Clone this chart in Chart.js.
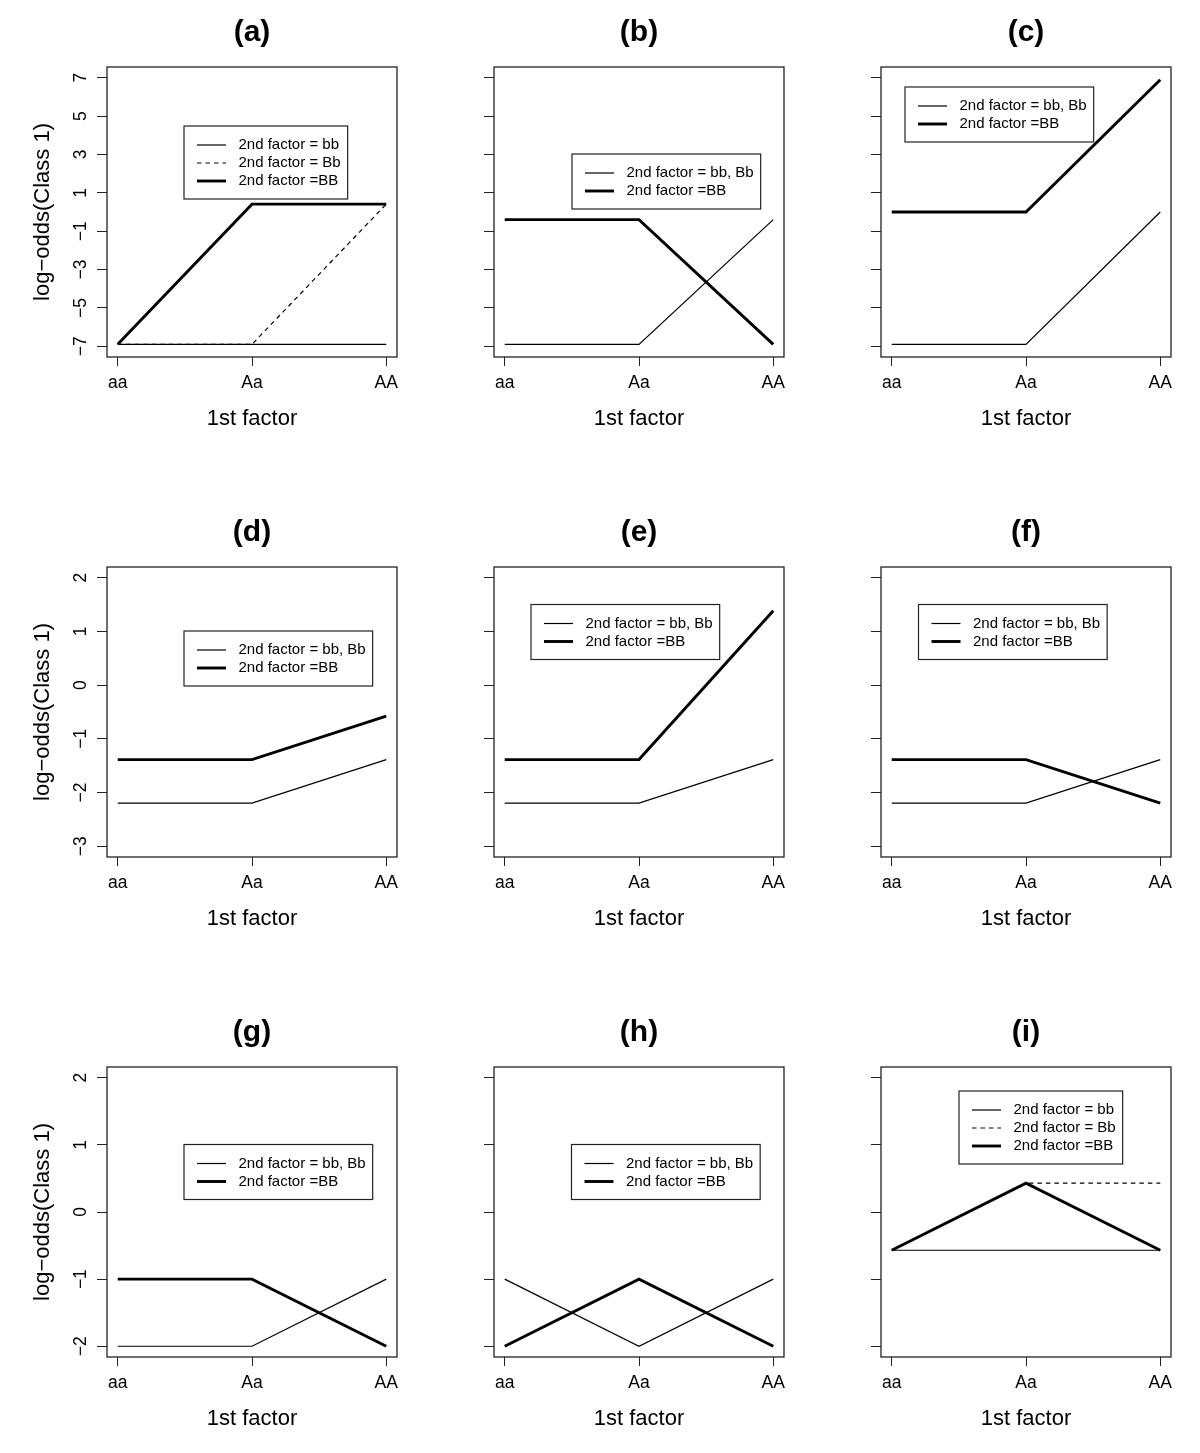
<!DOCTYPE html>
<html>
<head>
<meta charset="utf-8">
<script src="https://cdn.jsdelivr.net/npm/chart.js@4.4.0/dist/chart.umd.min.js"></script>
<style>
html, body { margin: 0; padding: 0; background: #fff; overflow: hidden; }
#page { position: relative; width: 1200px; height: 1453px; background: #fff; }
#page canvas { position: absolute; }
</style>
</head>
<body>
<div id="page"></div>
<script>
// categories of the 1st factor (x axis)
const factor1 = ['aa', 'Aa', 'AA'];
const titles = ['(a)', '(b)', '(c)', '(d)', '(e)', '(f)', '(g)', '(h)', '(i)'];

// legend labels
const LAB_bb = '2nd factor = bb';
const LAB_Bb = '2nd factor = Bb';
const LAB_bbBb = '2nd factor = bb, Bb';
const LAB_BB = '2nd factor =BB';

// log-odds values at aa, Aa, AA
const a_bb = [-6.9, -6.9, -6.9];
const a_Bb = [-6.9, -6.9, 0.41];
const a_BB = [-6.9, 0.41, 0.41];
const b_bbBb = [-6.9, -6.9, -0.4];
const b_BB = [-0.4, -0.4, -6.9];
const c_bbBb = [-6.9, -6.9, 0];
const c_BB = [0, 0, 6.9];
const d_bbBb = [-2.197, -2.197, -1.386];
const d_BB = [-1.386, -1.386, -0.575];
const e_bbBb = [-2.197, -2.197, -1.386];
const e_BB = [-1.386, -1.386, 1.386];
const f_bbBb = [-2.197, -2.197, -1.386];
const f_BB = [-1.386, -1.386, -2.197];
const g_bbBb = [-2, -2, -1];
const g_BB = [-1, -1, -2];
const h_bbBb = [-1, -2, -1];
const h_BB = [-2, -1, -2];
const i_bb = [-0.57, -0.57, -0.57];
const i_Bb = [-0.57, 0.43, 0.43];
const i_BB = [-0.57, 0.43, -0.57];

// y limits and tick labels per row
const ylimRow1 = [-7, 7];
const ylimRow2 = [-3, 2];
const ylimRow3 = [-2, 2];
const ticksRow1 = [-7, -5, -3, -1, 1, 3, 5, 7];
const ticksRow2 = [-3, -2, -1, 0, 1, 2];
const ticksRow3 = [-2, -1, 0, 1, 2];

const FONT = '"Liberation Sans", Arial, Helvetica, sans-serif';
const lineStyles = {
  thin: { width: 1.2, dash: [] },
  dash: { width: 1.2, dash: [4.5, 4] },
  thick: { width: 2.9, dash: [] }
};

const panels = [
  { series: [[LAB_bb, a_bb, 'thin'], [LAB_Bb, a_Bb, 'dash'], [LAB_BB, a_BB, 'thick']], ylim: ylimRow1, ticks: ticksRow1, legendAt: [77, 59] },
  { series: [[LAB_bbBb, b_bbBb, 'thin'], [LAB_BB, b_BB, 'thick']], ylim: ylimRow1, ticks: ticksRow1, legendAt: [78, 87] },
  { series: [[LAB_bbBb, c_bbBb, 'thin'], [LAB_BB, c_BB, 'thick']], ylim: ylimRow1, ticks: ticksRow1, legendAt: [24, 20] },
  { series: [[LAB_bbBb, d_bbBb, 'thin'], [LAB_BB, d_BB, 'thick']], ylim: ylimRow2, ticks: ticksRow2, legendAt: [77, 64] },
  { series: [[LAB_bbBb, e_bbBb, 'thin'], [LAB_BB, e_BB, 'thick']], ylim: ylimRow2, ticks: ticksRow2, legendAt: [37, 37.5] },
  { series: [[LAB_bbBb, f_bbBb, 'thin'], [LAB_BB, f_BB, 'thick']], ylim: ylimRow2, ticks: ticksRow2, legendAt: [37.5, 37.5] },
  { series: [[LAB_bbBb, g_bbBb, 'thin'], [LAB_BB, g_BB, 'thick']], ylim: ylimRow3, ticks: ticksRow3, legendAt: [77, 77.5] },
  { series: [[LAB_bbBb, h_bbBb, 'thin'], [LAB_BB, h_BB, 'thick']], ylim: ylimRow3, ticks: ticksRow3, legendAt: [77.5, 77.5] },
  { series: [[LAB_bb, i_bb, 'thin'], [LAB_Bb, i_Bb, 'dash'], [LAB_BB, i_BB, 'thick']], ylim: ylimRow3, ticks: ticksRow3, legendAt: [78, 24] }
];

// frame around the plot region and the R-style legend box inside it
const frameLegend = {
  id: 'frameLegend',
  afterDatasetsDraw(chart, args, opts) {
    const ctx = chart.ctx;
    const a = chart.chartArea;
    ctx.save();
    ctx.strokeStyle = '#222';
    ctx.lineWidth = 1.3;
    ctx.strokeRect(a.left, a.top, a.right - a.left, a.bottom - a.top);

    const sets = chart.data.datasets;
    ctx.font = '15px ' + FONT;
    const w = 54.5 + Math.max(...sets.map(d => ctx.measureText(d.label).width)) + 7;
    const h = (sets.length - 1) * 18 + 37;
    const x0 = a.left + opts.at[0];
    const y0 = a.top + opts.at[1];
    ctx.lineWidth = 1.2;
    ctx.strokeRect(x0, y0, w, h);
    sets.forEach((d, k) => {
      const y = y0 + 19 + k * 18;
      ctx.beginPath();
      ctx.strokeStyle = '#000';
      ctx.lineWidth = d.borderWidth;
      ctx.setLineDash(d.borderDash);
      ctx.moveTo(x0 + 13, y);
      ctx.lineTo(x0 + 42, y);
      ctx.stroke();
      ctx.setLineDash([]);
      ctx.fillStyle = '#000';
      ctx.textBaseline = 'middle';
      ctx.textAlign = 'left';
      ctx.fillText(d.label, x0 + 54.5, y);
    });
    ctx.restore();
  }
};

const page = document.getElementById('page');

function minusSign(v) {
  return v < 0 ? '\u2212' + Math.abs(v) : String(v);
}

panels.forEach((p, i) => {
  const row = Math.floor(i / 3);
  const col = i % 3;
  const canvas = document.createElement('canvas');
  canvas.width = 410;
  canvas.height = 450;
  canvas.style.width = '410px';
  canvas.style.height = '450px';
  canvas.style.left = (col * 387) + 'px';
  canvas.style.top = (row * 500) + 'px';
  page.appendChild(canvas);

  const span = p.ylim[1] - p.ylim[0];

  new Chart(canvas, {
    type: 'line',
    data: {
      datasets: p.series.map(s => ({
        label: s[0],
        data: s[1].map((v, k) => ({ x: k, y: v })),
        borderColor: '#000',
        borderWidth: lineStyles[s[2]].width,
        borderDash: lineStyles[s[2]].dash,
        pointRadius: 0,
        tension: 0,
        fill: false
      }))
    },
    options: {
      responsive: false,
      animation: false,
      devicePixelRatio: 1,
      layout: { padding: { left: 0, top: 0, right: 13, bottom: 0 } },
      plugins: {
        legend: { display: false },
        tooltip: { enabled: false },
        title: {
          display: true,
          fullSize: false,
          text: titles[i],
          color: '#000',
          font: { family: FONT, size: 30, weight: 'bold' },
          padding: { top: 15, bottom: 16 }
        },
        frameLegend: { at: p.legendAt }
      },
      scales: {
        x: {
          type: 'linear',
          min: -0.08,
          max: 2.08,
          afterBuildTicks: s => { s.ticks = factor1.map((_, k) => ({ value: k })); },
          afterFit: s => { s.height = 93; },
          ticks: {
            callback: v => factor1[v],
            color: '#000',
            font: { family: FONT, size: 17.5 },
            padding: 6.5,
            maxRotation: 0,
            autoSkip: false
          },
          grid: { display: true, drawOnChartArea: false, drawTicks: true, tickLength: 9, color: '#222', lineWidth: 1 },
          border: { display: false },
          title: {
            display: true,
            text: '1st factor',
            color: '#000',
            font: { family: FONT, size: 22 },
            padding: { top: 0, bottom: 18 }
          }
        },
        y: {
          type: 'linear',
          min: p.ylim[0] - 0.04 * span,
          max: p.ylim[1] + 0.04 * span,
          afterBuildTicks: s => { s.ticks = p.ticks.map(v => ({ value: v })); },
          afterFit: s => { s.width = 107; },
          ticks: {
            display: col === 0,
            callback: v => minusSign(v),
            color: '#000',
            font: { family: FONT, size: 17.5 },
            minRotation: 90,
            maxRotation: 90,
            crossAlign: 'center',
            padding: 6
          },
          grid: { display: true, drawOnChartArea: false, drawTicks: true, tickLength: 10, color: '#222', lineWidth: 1 },
          border: { display: false },
          title: {
            display: col === 0,
            text: 'log\u2212odds(Class 1)',
            color: '#000',
            font: { family: FONT, size: 22 },
            padding: { top: 30, bottom: 0 }
          }
        }
      }
    },
    plugins: [frameLegend]
  });
});
</script>
</body>
</html>
